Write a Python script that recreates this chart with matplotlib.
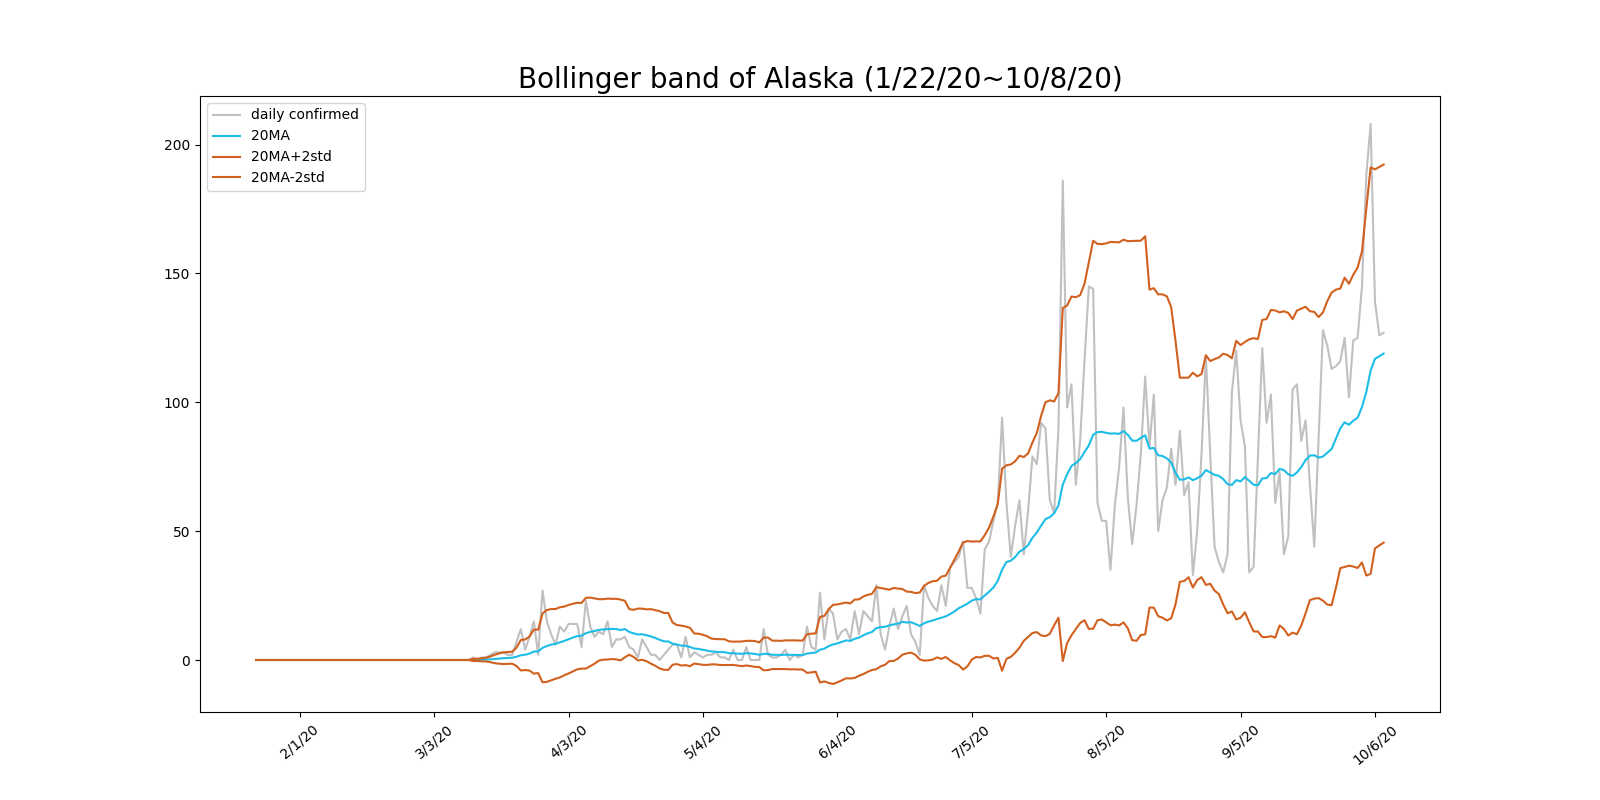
import numpy as np
import pandas as pd
import matplotlib
matplotlib.use('Agg')
import matplotlib.pyplot as plt

# daily confirmed cases in Alaska, 1/22/20 .. 10/8/20
dates = [d.strftime('%-m/%-d/%y') for d in pd.date_range('2020-01-22', '2020-10-08')]
daily = [0] * 50 + [
    1, 0, 1, 1, 2, 3, 3, 3, 2, 2,
    7, 12, 4, 9, 15, 2, 27, 15, 10, 6,
    13, 11, 14, 14, 14, 5, 23, 13, 9, 11,
    10, 15, 5, 8, 8, 9, 5, 4, 1, 8,
    5, 2, 2, 0, 2, 4, 6, 6, 1, 9,
    1, 3, 2, 1, 2, 2, 3, 1, 1, 0,
    4, 0, 0, 5, 0, 0, 0, 12, 2, 1,
    1, 2, 4, 0, 2, 1, 2, 13, 5, 4,
    26, 8, 20, 18, 8, 11, 12, 8, 19, 10,
    19, 17, 15, 29, 10, 4, 13, 20, 12, 17,
    21, 10, 7, 2, 29, 24, 21, 19, 29, 21,
    36, 38, 40, 46, 28, 28, 24, 18, 43, 46,
    54, 61, 94, 61, 40, 52, 62, 41, 58, 79,
    76, 92, 90, 62, 57, 90, 186, 98, 107, 68,
    85, 116, 145, 144, 61, 54, 54, 35, 60, 75,
    98, 63, 45, 60, 80, 110, 83, 103, 50, 62,
    67, 82, 68, 89, 64, 69, 33, 50, 80, 118,
    80, 44, 38, 34, 41, 104, 120, 93, 83, 34,
    36, 78, 121, 92, 103, 61, 73, 41, 48, 105,
    107, 85, 93, 68, 44, 86, 128, 122, 113, 114,
    116, 125, 102, 124, 125, 145, 188, 208, 139, 126,
    127,
]

s = pd.Series(daily, index=dates)
ma = s.rolling(20).mean().fillna(0)
std = s.rolling(20).std().fillna(0)
upper = ma + 2 * std
lower = ma - 2 * std

x = np.arange(len(dates))
fig, ax = plt.subplots(figsize=(16, 8), dpi=100)
ax.plot(x, s.values, color='silver', label='daily confirmed')
ax.plot(x, ma.values, color='#1cbde6', label='20MA')
ax.plot(x, upper.values, color='#d2601e', label='20MA+2std')
ax.plot(x, lower.values, color='#d2601e', label='20MA-2std')

ticks = x[10::31]
ax.set_xticks(ticks)
ax.set_xticklabels([dates[i] for i in ticks], rotation=40)
ax.set_title('Bollinger band of Alaska (1/22/20~10/8/20)', fontsize=20)
ax.legend(loc='upper left')

fig.savefig('out.png')
